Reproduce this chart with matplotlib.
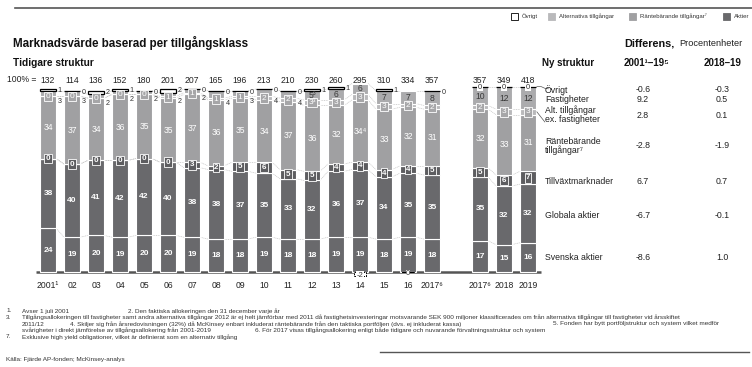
import matplotlib.pyplot as plt
from matplotlib.patches import Rectangle
import numpy as np

plt.rcParams['font.family'] = ['Liberation Sans', 'DejaVu Sans']

W, H = 752, 367

# data, old structure 2001-2017 then new structure 2017-2019
years = ['2001¹', '02', '03', '04', '05', '06', '07', '08', '09', '10', '11', '12',
         '13', '14', '15', '16', '2017⁶', '2017⁶', '2018', '2019']
totals = [132, 114, 136, 152, 180, 201, 207, 165, 196, 213, 210, 230, 260, 295, 310,
          334, 357, 357, 349, 418]
svenska = [24, 19, 20, 19, 20, 20, 19, 18, 18, 19, 18, 18, 19, 19, 18, 19, 18, 17, 15, 16]
globala = [38, 40, 41, 42, 42, 40, 38, 38, 37, 35, 33, 32, 36, 37, 34, 35, 35, 35, 32, 32]
tillvaxt = [0, 0, 0, 0, 0, 0, 3, 2, 5, 6, 5, 5, 4, 4, 4, 4, 5, 5, 6, 7]
rante = [34, 37, 34, 36, 35, 35, 37, 36, 35, 34, 37, 36, 32, 34, 33, 32, 31, 32, 33, 31]
alt = [0, 0, 0, 0, 0, 1, 1, 1, 1, 2, 2, 3, 3, 3, 3, 2, 2, 2, 3, 3]
fast = [3, 3, 2, 2, 2, 2, 2, 4, 3, 4, 4, 5, 6, 6, 7, 7, 8, 10, 12, 12]
ovrigt = [1, 0, 2, 1, 0, 2, 0, 0, 0, 0, 0, 1, 1, -2, 1, 0, 0, 0, 0, 0]
notes = {('rante', 13): '⁴', ('alt', 11): '³', ('fast', 11): '³'}

categories = ['Övrigt', 'Fastigheter', 'Alt. tillgångar\nex. fastigheter',
              'Räntebärande\ntillgångar⁷', 'Tillväxtmarknader', 'Globala aktier',
              'Svenska aktier']
diff_01_19 = [-0.6, 9.2, 2.8, -2.8, 6.7, -6.7, -8.6]
diff_18_19 = [-0.3, 0.5, 0.1, -1.9, 0.7, -0.1, 1.0]

C_AKT = '#69696c'
C_TV = '#5d5d60'
C_RAN = '#a0a0a2'
C_ALT = '#b9b9bb'
C_FAS = '#ababad'

fig = plt.figure(figsize=(W / 100, H / 100), dpi=100)
ax = fig.add_axes([0, 0, 1, 1])
# pixel mapping: px = 48 + 24*i, py = 272 - 1.83*y
ax.set_xlim(-2, (W - 48) / 24)
ax.set_ylim((272 - H) / 1.83, 272 / 1.83)
ax.axis('off')


def ft(px, py, s, **kw):
    kw.setdefault('va', 'center')
    fig.text(px / W, 1 - py / H, s, **kw)


x = np.array(list(range(17)) + [18, 19, 20])
w = 0.67
n = len(x)

segs = [('svenska', svenska, C_AKT), ('globala', globala, C_AKT),
        ('tillvaxt', tillvaxt, C_TV), ('rante', rante, C_RAN),
        ('alt', alt, C_ALT), ('fast', fast, C_FAS)]

levels = np.zeros((n, len(segs) + 1))
bottom = np.zeros(n)
for k, (name, vals, col) in enumerate(segs):
    vals = np.array(vals, dtype=float)
    ax.bar(x, vals, w, bottom=bottom, color=col, edgecolor='white', linewidth=0.8, zorder=2)
    bottom = bottom + vals
    levels[:, k + 1] = bottom

# connectors between neighbouring bars
groups = [range(0, 16), range(17, 19)]
for g in groups:
    for i in g:
        for k in range(1, len(segs) + 1):
            ax.plot([x[i] + w / 2, x[i + 1] - w / 2], [levels[i, k], levels[i + 1, k]],
                    color='#c4c4c4', lw=0.5, ls=(0, (1.5, 1)), zorder=1)

# ovrigt
for i in range(n):
    v = ovrigt[i]
    if v < 0 or i == 15:
        ax.add_patch(Rectangle((x[i] - w / 2 + 0.1, 0), w - 0.2, v, fc='white', ec='black',
                               lw=0.7, ls=(0, (2, 1)), zorder=3, clip_on=False))
        ax.text(x[i], v / 2 - 0.8, str(v), ha='center', va='center', fontsize=5.5,
                color='#333333', zorder=4,
                bbox=dict(fc='white', ec='none', pad=0.3))
    else:
        ax.bar(x[i], v, w, bottom=bottom[i], color='white', edgecolor='black', lw=0.9, zorder=3)
        if i >= 17:
            ax.text(x[i], bottom[i] + v, str(v), ha='center', va='center', fontsize=5.5,
                    color='#333333', zorder=4, bbox=dict(fc='white', ec='none', pad=0.5))
        else:
            ax.text(x[i] + w / 2 + 0.06, bottom[i] + v - 0.8, str(v), ha='left', va='center',
                    fontsize=5.2, color='#333333', zorder=4)

# segment labels
for k, (name, vals, col) in enumerate(segs):
    for i in range(n):
        v = vals[i]
        s = str(v) + notes.get((name, i), '')
        yc = (levels[i, k] + levels[i, k + 1]) / 2
        if name in ('svenska', 'globala'):
            ax.text(x[i], yc, s, ha='center', va='center', fontsize=6, color='white',
                    fontweight='bold', zorder=4)
        elif name == 'rante':
            ax.text(x[i], yc, s, ha='center', va='center', fontsize=6.2, color='white', zorder=4)
        elif name == 'tillvaxt':
            ax.text(x[i], yc, s, ha='center', va='center', fontsize=5.8, color='white',
                    fontweight='bold', zorder=4,
                    bbox=dict(fc=C_TV, ec='white', lw=0.6, pad=0.9))
        elif name == 'alt':
            ax.text(x[i], yc, s, ha='center', va='center', fontsize=6, color='white',
                    zorder=4, bbox=dict(fc='#a6a6a8', ec='white', lw=0.6, pad=0.9))
        elif name == 'fast':
            if v >= 5:
                ax.text(x[i], yc, s, ha='center', va='center', fontsize=6.2, color='#3a3a3a',
                        zorder=4)
            else:
                ax.text(x[i] + w / 2 + 0.06, levels[i, k] - 3, s, ha='left', va='center',
                        fontsize=5.2, color='#333333', zorder=4)

# baseline
ax.plot([-0.5, 20.54], [0, 0], color='#555555', lw=1.8, zorder=1, solid_capstyle='butt')

# totals and year labels
for i in range(n):
    ax.text(x[i], 104.9, str(totals[i]), ha='center', va='center', fontsize=6.2, color='#222222')
    ax.text(x[i], -7.3, years[i], ha='center', va='center', fontsize=6.2, color='#222222')
ft(7, 80, '100% =', ha='left', fontsize=6.2, color='#222222')

# header
fig.add_artist(plt.Line2D([15 / W, 1], [1 - 8 / H, 1 - 8 / H], color='#555555', lw=1.2))
leg = [('Övrigt', 'white', 511), ('Alternativa tillgångar', C_ALT, 548),
       ('Räntebärande tillgångar⁷', C_RAN, 629), ('Aktier', C_AKT, 723)]
for lab, col, px in leg:
    fig.add_artist(Rectangle((px / W, 1 - 19.5 / H), 7 / W, 6.5 / H, fc=col,
                             ec='black' if col == 'white' else col, lw=0.6))
    ft(px + 11, 16, lab, ha='left', fontsize=4.3, color='#333333')

ft(13, 43, 'Marknadsvärde baserad per tillgångsklass', ha='left', fontsize=8.4,
   fontweight='bold', color='#111111')
ft(13, 63, 'Tidigare struktur', ha='left', fontsize=7.3, fontweight='bold', color='#111111')
ft(542, 63, 'Ny struktur', ha='left', fontsize=7, fontweight='bold', color='#111111')
ft(624, 43, 'Differens,', ha='left', fontsize=7.8, fontweight='bold', color='#111111')
ft(679, 43, 'Procentenheter', ha='left', fontsize=6.7, color='#222222')
ft(646, 63, '2001¹–19⁵', ha='center', fontsize=7, fontweight='bold', color='#111111')
ft(723, 63, '2018–19', ha='center', fontsize=7, fontweight='bold', color='#111111')

row_y = [90, 100, 115, 146, 181, 215, 258]
for lab, d1, d2, py in zip(categories, diff_01_19, diff_18_19, row_y):
    ft(545, py, lab, ha='left', fontsize=6.3, color='#222222', linespacing=1.0)
    ft(643, py, f'{d1:.1f}', ha='center', fontsize=6.3, color='#222222')
    ft(722, py, f'{d2:.1f}', ha='center', fontsize=6.3, color='#222222')

# small leader lines to the category labels
ax.plot([20.37, 20.55, 20.7, 20.85], [levels[19, 6] + 0.3, levels[19, 6] + 0.3,
        levels[19, 6] - 0.6, levels[19, 6] - 0.9], color='#555555', lw=0.5)
ax.plot([20.37, 20.7], [(levels[19, 4] + levels[19, 5]) / 2, levels[19, 4] - 4],
        color='#555555', lw=0.5)

# footnotes
fs = 4.6
fc = '#333333'
fy = [311, 317.5, 324, 330.5, 337]
ft(6, fy[0], '1.', ha='left', fontsize=fs, color=fc)
ft(22, fy[0], 'Avser 1 juli 2001', ha='left', fontsize=fs, color=fc)
ft(128, fy[0], '2. Den faktiska allokeringen den 31 december varje år', ha='left', fontsize=fs, color=fc)
ft(6, fy[1], '3.', ha='left', fontsize=fs, color=fc)
ft(22, fy[1], 'Tillgångsallokeringen till fastigheter samt andra alternativa tillgångar 2012 är ej helt '
   'jämförbar med 2011 då fastighetsinvesteringar motsvarande SEK 900 miljoner klassificerades om '
   'från alternativa tillgångar till fastigheter vid årsskiftet', ha='left', fontsize=fs, color=fc)
ft(22, fy[2], '2011/12', ha='left', fontsize=fs, color=fc)
ft(70, fy[2], '4. Skiljer sig från årsredovisningen (32%) då McKinsey enbart inkluderat räntebärande '
   'från den taktiska portföljen (dvs. ej inkluderat kassa)', ha='left', fontsize=fs, color=fc)
ft(553, fy[2], '5. Fonden har bytt portföljstruktur och system vilket medför', ha='left',
   fontsize=fs, color=fc)
ft(22, fy[3], 'svårigheter i direkt jämförelse av tillgångsallokering från 2001-2019', ha='left',
   fontsize=fs, color=fc)
ft(255, fy[3], '6. För 2017 visas tillgångsallokering enligt både tidigare och nuvarande '
   'förvaltningsstruktur och system', ha='left', fontsize=fs, color=fc)
ft(6, fy[4], '7.', ha='left', fontsize=fs, color=fc)
ft(22, fy[4], 'Exklusive high yield obligationer, vilket är definierat som en alternativ tillgång',
   ha='left', fontsize=fs, color=fc)

fig.add_artist(plt.Line2D([380 / W, 749 / W], [1 - 352 / H, 1 - 352 / H], color='#555555', lw=1.0))
ft(6, 359, 'Källa: Fjärde AP-fonden; McKinsey-analys', ha='left', fontsize=fs, color=fc)

fig.savefig('out.png', dpi=100)
